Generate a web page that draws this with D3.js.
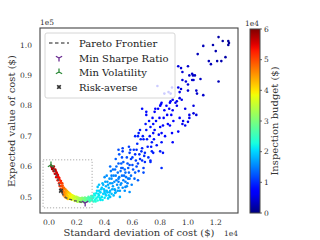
<!DOCTYPE html>
<html>
<head>
<meta charset="utf-8">
<script src="https://cdn.jsdelivr.net/npm/d3@7"></script>
<style>
  html, body { margin: 0; padding: 0; background: #fff; }
  svg { display: block; font-family: "DejaVu Serif", serif; }
</style>
</head>
<body>
<svg id="chart" width="320" height="240"></svg>
<script>
// std dev in 1e4 $, expected cost in 1e5 $, inspection budget in 1e4 $
const bandSamples = [
  [0.014,0.603,5.9],[0.02,0.598,5.85],[0.022,0.592,5.8],[0.03,0.594,5.75],[0.032,0.585,5.7],
  [0.04,0.586,5.65],[0.042,0.576,5.6],[0.045,0.59,5.7],[0.05,0.575,5.55],[0.052,0.565,5.5],
  [0.055,0.58,5.55],[0.06,0.566,5.45],[0.062,0.555,5.4],[0.064,0.572,5.45],[0.07,0.556,5.35],
  [0.072,0.545,5.3],[0.074,0.562,5.35],[0.076,0.536,5.2],[0.08,0.546,5.15],[0.082,0.535,5.1],
  [0.084,0.525,5.0],[0.086,0.552,5.2],[0.09,0.536,5.0],[0.092,0.526,4.95],[0.094,0.516,4.9],
  [0.095,0.545,5.05],[0.10,0.53,4.85],[0.102,0.52,4.8],[0.104,0.51,4.75],[0.106,0.505,4.7],
  [0.11,0.526,4.65],[0.112,0.515,4.6],[0.114,0.506,4.55],[0.116,0.499,4.5],[0.12,0.52,4.45],
  [0.122,0.51,4.4],[0.124,0.501,4.4],[0.126,0.496,4.35],[0.13,0.515,4.3],[0.132,0.505,4.25],
  [0.134,0.498,4.2],[0.136,0.493,4.2],[0.14,0.512,4.15],[0.142,0.502,4.1],[0.144,0.495,4.05],
  [0.15,0.509,4.0],[0.152,0.5,3.95],[0.154,0.493,3.9],[0.16,0.506,3.9],[0.162,0.498,3.85],
  [0.164,0.491,3.8],[0.17,0.503,3.75],[0.172,0.495,3.7],[0.18,0.5,3.65],[0.182,0.492,3.6],
  [0.184,0.487,3.6],[0.19,0.498,3.55],[0.192,0.49,3.5],[0.20,0.496,3.45],[0.202,0.488,3.4],
  [0.204,0.484,3.4],[0.21,0.494,3.35],[0.212,0.486,3.3],[0.22,0.492,3.25],[0.222,0.485,3.2],
  [0.23,0.49,3.15],[0.232,0.483,3.1],[0.24,0.492,3.05],[0.242,0.485,3.0],[0.25,0.49,2.95],
  [0.252,0.483,2.9],[0.26,0.488,2.9],[0.262,0.494,2.85],[0.27,0.485,2.8],[0.272,0.49,2.8],
  [0.274,0.496,2.75],[0.28,0.487,2.7],[0.282,0.493,2.7],[0.284,0.50,2.65],[0.29,0.49,2.6],
  [0.292,0.485,2.6],[0.294,0.497,2.55],[0.30,0.488,2.5],[0.302,0.495,2.5],[0.304,0.503,2.45],
  [0.035,0.60,5.75],[0.048,0.585,5.6],[0.058,0.575,5.5],[0.068,0.565,5.4],[0.078,0.555,5.25],
  [0.088,0.545,5.1],[0.098,0.537,4.95],[0.108,0.53,4.8],[0.118,0.525,4.6],[0.128,0.52,4.4],
  [0.138,0.516,4.25],[0.148,0.512,4.1],[0.158,0.508,3.95],[0.168,0.505,3.8],[0.178,0.503,3.7],
  [0.188,0.50,3.6],[0.198,0.50,3.5],[0.208,0.498,3.4],[0.218,0.496,3.3],[0.228,0.495,3.2],
  [0.238,0.497,3.1],[0.248,0.495,3.0],[0.258,0.498,2.9]
];

const lowSamples = [
  [0.31,0.49,2.4],[0.32,0.497,2.3],[0.32,0.485,2.4],[0.33,0.505,2.2],[0.33,0.49,2.3],
  [0.34,0.495,2.2],[0.34,0.512,2.1],[0.35,0.488,2.3],[0.35,0.50,2.2],[0.35,0.533,1.9],
  [0.36,0.52,2.0],[0.36,0.505,2.1],[0.37,0.493,2.2],[0.37,0.515,2.0],[0.37,0.49,2.1],
  [0.38,0.53,1.9],[0.38,0.50,2.1],[0.39,0.51,2.0],[0.39,0.54,1.8],[0.40,0.52,1.9],
  [0.40,0.497,2.1],[0.40,0.516,1.9],[0.40,0.565,1.6],[0.41,0.535,1.8],[0.41,0.505,2.0],
  [0.42,0.55,1.7],[0.42,0.515,1.9],[0.43,0.53,1.8],[0.43,0.505,2.0],[0.44,0.545,1.7],
  [0.44,0.52,1.8],[0.44,0.50,1.9],[0.44,0.60,1.4],[0.45,0.56,1.6],[0.45,0.51,1.9],
  [0.45,0.57,1.5],[0.46,0.535,1.7],[0.46,0.59,1.4],[0.47,0.525,1.8],[0.47,0.55,1.6],
  [0.475,0.513,1.8],[0.475,0.523,1.7],[0.475,0.59,1.4],[0.48,0.515,1.8],[0.48,0.57,1.5],
  [0.48,0.625,1.3],[0.49,0.54,1.6],[0.50,0.53,1.7],[0.50,0.56,1.5],[0.50,0.55,1.5],
  [0.50,0.61,1.3],[0.50,0.655,1.2],[0.51,0.52,1.7],[0.51,0.50,1.8],[0.52,0.545,1.6],
  [0.52,0.595,1.3],[0.52,0.61,1.3],[0.525,0.57,1.4],[0.525,0.63,1.2],[0.53,0.53,1.6],
  [0.53,0.66,1.1],[0.53,0.595,1.3],[0.53,0.65,1.1],[0.54,0.57,1.4],[0.55,0.55,1.5],
  [0.55,0.533,1.5],[0.55,0.58,1.4],[0.56,0.535,1.6],[0.56,0.63,1.2],[0.57,0.56,1.4],
  [0.57,0.595,1.3],[0.58,0.56,1.5],[0.58,0.516,1.6],[0.58,0.645,1.1],[0.58,0.605,1.2],
  [0.585,0.655,1.1],[0.575,0.665,1.1],
  [0.31,0.495,2.35],[0.315,0.503,2.3],[0.325,0.51,2.2],[0.335,0.485,2.35],[0.345,0.52,2.05],
  [0.355,0.51,2.1],[0.36,0.54,1.9],[0.365,0.497,2.15],[0.375,0.525,1.95],[0.385,0.545,1.85],
  [0.385,0.49,2.15],[0.395,0.525,1.9],[0.405,0.55,1.75],[0.405,0.51,1.95],[0.415,0.52,1.9],
  [0.415,0.57,1.6],[0.425,0.54,1.75],[0.425,0.495,2.0],[0.435,0.56,1.65],[0.435,0.515,1.85],
  [0.445,0.585,1.5],[0.455,0.525,1.75],[0.455,0.545,1.65],[0.465,0.57,1.55],[0.465,0.505,1.85],
  [0.485,0.555,1.55],[0.485,0.60,1.4],[0.495,0.52,1.7],[0.495,0.58,1.45],[0.505,0.565,1.5],
  [0.505,0.64,1.25],[0.515,0.54,1.6],[0.515,0.585,1.4],[0.535,0.555,1.5],[0.535,0.615,1.3],
  [0.545,0.59,1.35],[0.545,0.52,1.6],[0.555,0.565,1.45],[0.565,0.545,1.5],[0.565,0.61,1.25],
  [0.575,0.58,1.35],[0.59,0.57,1.4],[0.59,0.625,1.15],[0.595,0.54,1.5]
];

const midSamples = [
  [0.60,0.605,1.2],[0.60,0.63,1.1],[0.62,0.58,1.3],[0.62,0.64,1.0],[0.62,0.70,0.95],
  [0.63,0.60,1.2],[0.63,0.655,1.0],[0.64,0.555,1.3],[0.64,0.61,1.1],[0.64,0.70,0.95],
  [0.645,0.71,0.9],[0.65,0.64,1.0],[0.66,0.69,0.95],[0.67,0.62,1.0],[0.67,0.66,0.95],
  [0.67,0.79,0.8],[0.68,0.58,1.2],[0.68,0.595,1.1],[0.68,0.69,0.9],[0.69,0.645,1.0],
  [0.69,0.615,1.0],[0.70,0.77,0.8],[0.70,0.72,0.85],[0.70,0.78,0.8],[0.71,0.665,0.9],
  [0.73,0.615,1.0],[0.73,0.62,0.95],[0.73,0.73,0.85],[0.74,0.65,0.95],[0.74,0.68,0.9],
  [0.75,0.645,0.9],[0.75,0.74,0.8],[0.75,0.71,0.8],[0.76,0.78,0.75],[0.765,0.79,0.75],
  [0.78,0.865,0.7],[0.80,0.80,0.75],[0.80,0.73,0.8],[0.80,0.65,0.9],[0.805,0.805,0.7],
  [0.81,0.81,0.7],[0.81,0.71,0.8],[0.81,0.68,0.85],[0.81,0.595,1.0],[0.82,0.735,0.75],
  [0.82,0.645,0.85],[0.83,0.785,0.7],[0.83,0.84,0.65],[0.85,0.77,0.7],[0.86,0.845,0.65],
  [0.87,0.735,0.75],[0.87,0.81,0.7],[0.875,0.815,0.65],[0.885,0.71,0.75],[0.885,0.86,0.6],
  [0.88,0.77,0.7],[0.89,0.785,0.65],[0.89,0.82,0.6],[0.89,0.68,0.7],
  [0.605,0.59,1.25],[0.61,0.655,1.05],[0.615,0.56,1.35],[0.625,0.62,1.1],[0.635,0.675,1.0],
  [0.645,0.585,1.2],[0.655,0.625,1.05],[0.655,0.72,0.9],[0.665,0.65,1.0],[0.675,0.70,0.9],
  [0.685,0.635,1.0],[0.695,0.74,0.85],[0.705,0.69,0.9],[0.715,0.63,1.0],[0.72,0.75,0.85],
  [0.725,0.70,0.85],[0.735,0.665,0.9],[0.745,0.76,0.8],[0.755,0.69,0.85],[0.76,0.72,0.8],
  [0.77,0.75,0.8],[0.775,0.67,0.85],[0.785,0.79,0.75],[0.79,0.705,0.8],[0.795,0.76,0.75],
  [0.825,0.76,0.75],[0.835,0.70,0.8],[0.845,0.80,0.7],[0.855,0.74,0.75],[0.865,0.79,0.7],
  [0.875,0.84,0.65],[0.895,0.75,0.7]
];

const highSamples = [
  [0.91,0.81,0.6],[0.92,0.815,0.55],[0.92,0.80,0.6],[0.93,0.86,0.55],[0.93,0.93,0.5],
  [0.93,0.715,0.65],[0.94,0.845,0.55],[0.94,0.825,0.55],[0.94,0.76,0.65],[0.95,0.855,0.5],
  [0.95,0.924,0.45],[0.955,0.82,0.55],[0.96,0.911,0.45],[0.96,0.885,0.5],[0.96,0.74,0.6],
  [0.965,0.75,0.6],[0.98,0.79,0.55],[0.98,0.735,0.6],[0.985,0.88,0.45],[1.0,0.93,0.4],
  [1.0,0.87,0.45],[1.0,0.85,0.45],[1.0,0.747,0.55],[1.01,0.90,0.4],[1.01,0.76,0.55],
  [1.01,0.77,0.55],[1.03,0.905,0.4],[1.03,0.885,0.4],[1.036,0.90,0.4],[1.04,0.885,0.4],
  [1.04,0.80,0.5],[1.04,0.775,0.5],[1.05,0.90,0.35],[1.06,0.85,0.4],[1.06,0.77,0.5],
  [1.065,0.84,0.4],[1.07,0.97,0.3],[1.09,0.888,0.35],[1.11,0.997,0.3],[1.11,0.835,0.4],
  [1.15,0.947,0.3],[1.165,0.937,0.3],[1.18,1.0,0.25],[1.20,0.98,0.25],[1.21,0.947,0.25],
  [1.22,1.026,0.2],[1.22,0.88,0.3],[1.24,0.947,0.25],[1.25,1.013,0.2],[1.27,0.96,0.2],
  [1.29,1.013,0.15],[1.295,1.007,0.15],[1.29,1.0,0.15]
];

// Pareto frontier trace
const frontierStd  = [0.014, 0.043, 0.065, 0.086, 0.115, 0.165, 0.22, 0.26];
const frontierMean = [0.605, 0.582, 0.556, 0.52, 0.50, 0.49, 0.484, 0.48];

const minVolatility = [0.014, 0.605];
const minSharpe = [0.26, 0.48];
const riskAverse = [0.086, 0.52];

const xTicks = [0.0, 0.2, 0.4, 0.6, 0.8, 1.0, 1.2];
const yTicks = [0.5, 0.6, 0.7, 0.8, 0.9, 1.0];
const cbTicks = [0, 1, 2, 3, 4, 5, 6];
const legendLabels = ['Pareto Frontier', 'Min Sharpe Ratio', 'Min Volatility', 'Risk-averse'];

const svg = d3.select('#chart');
const plot = { left: 40, right: 238, top: 28, bottom: 213 };

const x = d3.scaleLinear().domain([-0.065, 1.36]).range([plot.left, plot.right]);
const y = d3.scaleLinear().domain([0.447, 1.056]).range([plot.bottom, plot.top]);

// matplotlib "jet"
const jr = d3.scaleLinear().domain([0, 0.35, 0.66, 0.89, 1]).range([0, 0, 1, 1, 0.5]).clamp(true);
const jg = d3.scaleLinear().domain([0, 0.125, 0.375, 0.64, 0.91, 1]).range([0, 0, 1, 1, 0, 0]).clamp(true);
const jb = d3.scaleLinear().domain([0, 0.11, 0.34, 0.65, 1]).range([0.5, 1, 1, 0, 0]).clamp(true);
const jet = t => d3.rgb(jr(t) * 255, jg(t) * 255, jb(t) * 255).formatHex();
const budgetNorm = d3.scaleLinear().domain([0, 6]).range([0, 1]).clamp(true);
const color = b => jet(budgetNorm(b));

// plot background
svg.append('rect')
  .attr('x', plot.left).attr('y', plot.top)
  .attr('width', plot.right - plot.left).attr('height', plot.bottom - plot.top)
  .attr('fill', '#fff');

const allSamples = highSamples.concat(midSamples, lowSamples, bandSamples);
svg.append('g')
  .selectAll('circle')
  .data(allSamples)
  .enter().append('circle')
  .attr('cx', d => x(d[0]))
  .attr('cy', d => y(d[1]))
  .attr('r', 1.3)
  .attr('fill', d => color(d[2]));

// zoom box
svg.append('rect')
  .attr('x', x(-0.043)).attr('y', y(0.622))
  .attr('width', x(0.31) - x(-0.043)).attr('height', y(0.464) - y(0.622))
  .attr('fill', 'none')
  .attr('stroke', '#aaa')
  .attr('stroke-width', 1)
  .attr('stroke-dasharray', '1.2,1.8');

const frontier = frontierStd.map((s, i) => [s, frontierMean[i]]);
svg.append('path')
  .datum(frontier)
  .attr('d', d3.line().x(d => x(d[0])).y(d => y(d[1])).curve(d3.curveMonotoneX))
  .attr('fill', 'none')
  .attr('stroke', '#555')
  .attr('stroke-width', 1.3)
  .attr('stroke-dasharray', '3,2');

function tri(up, r) {
  const s = up ? -1 : 1;
  return `M0,0L0,${s * r}M0,0L${-0.866 * r},${-s * 0.5 * r}M0,0L${0.866 * r},${-s * 0.5 * r}`;
}
const xMark = d3.symbol().type(d3.symbolCross).size(14);

function drawMarkers(g, kind, cx, cy) {
  if (kind === 'sharpe') {
    g.append('path').attr('d', tri(false, 3.6)).attr('transform', `translate(${cx},${cy})`)
      .attr('stroke', '#6a2c91').attr('stroke-width', 1.3).attr('fill', 'none');
  } else if (kind === 'vol') {
    g.append('path').attr('d', tri(true, 3.6)).attr('transform', `translate(${cx},${cy})`)
      .attr('stroke', '#2e8b3a').attr('stroke-width', 1.3).attr('fill', 'none');
  } else {
    g.append('path').attr('d', xMark()).attr('transform', `translate(${cx},${cy}) rotate(45)`)
      .attr('fill', '#333');
  }
}
const marks = svg.append('g');
drawMarkers(marks, 'sharpe', x(minSharpe[0]), y(minSharpe[1]));
drawMarkers(marks, 'vol', x(minVolatility[0]), y(minVolatility[1]));
drawMarkers(marks, 'risk', x(riskAverse[0]), y(riskAverse[1]));

svg.append('rect')
  .attr('x', plot.left).attr('y', plot.top)
  .attr('width', plot.right - plot.left).attr('height', plot.bottom - plot.top)
  .attr('fill', 'none').attr('stroke', '#444').attr('stroke-width', 1.1);

// ticks
const tickFont = 7.5;
svg.append('g').selectAll('text').data(xTicks).enter().append('text')
  .attr('x', d => x(d)).attr('y', 225)
  .attr('text-anchor', 'middle').attr('font-size', tickFont).attr('fill', '#333')
  .text(d => d.toFixed(1));
svg.append('g').selectAll('text').data(yTicks).enter().append('text')
  .attr('x', 32).attr('y', d => y(d)).attr('dy', '0.35em')
  .attr('text-anchor', 'end').attr('font-size', tickFont).attr('fill', '#333')
  .text(d => d.toFixed(1));

svg.append('text').attr('x', 40).attr('y', 25).attr('font-size', tickFont).attr('fill', '#333').text('1e5');
svg.append('text').attr('x', 238).attr('y', 236).attr('text-anchor', 'end')
  .attr('font-size', tickFont).attr('fill', '#333').text('1e4');

svg.append('text').attr('x', 139).attr('y', 236).attr('text-anchor', 'middle')
  .attr('font-size', 10).attr('fill', '#333').text('Standard deviation of cost ($)');
svg.append('text').attr('transform', 'translate(15,121) rotate(-90)')
  .attr('text-anchor', 'middle').attr('font-size', 10).attr('fill', '#333')
  .text('Expected value of cost ($)');

// legend
const legend = svg.append('g');
legend.append('rect')
  .attr('x', 45).attr('y', 33).attr('width', 130).attr('height', 65).attr('rx', 2)
  .attr('fill', '#fff').attr('fill-opacity', 0.8)
  .attr('stroke', '#ccc').attr('stroke-width', 0.8);
const rowY = [43, 58, 72, 87];
legend.append('line')
  .attr('x1', 49).attr('x2', 69).attr('y1', rowY[0]).attr('y2', rowY[0])
  .attr('stroke', '#666').attr('stroke-width', 1.3).attr('stroke-dasharray', '3.5,2.5');
drawMarkers(legend, 'sharpe', 59, rowY[1]);
drawMarkers(legend, 'vol', 59, rowY[2]);
drawMarkers(legend, 'risk', 59, rowY[3]);
legend.selectAll('text.lbl').data(legendLabels).enter().append('text')
  .attr('class', 'lbl')
  .attr('x', 79).attr('y', (d, i) => rowY[i]).attr('dy', '0.35em')
  .attr('font-size', 10).attr('fill', '#222')
  .text(d => d);

// colorbar
const cb = { x: 250, w: 10, top: 29, bottom: 213 };
const cbScale = d3.scaleLinear().domain([0, 6]).range([cb.bottom, cb.top]);
const grad = svg.append('defs').append('linearGradient')
  .attr('id', 'jetgrad').attr('x1', 0).attr('y1', 1).attr('x2', 0).attr('y2', 0);
d3.range(0, 1.0001, 0.02).forEach(t => {
  grad.append('stop').attr('offset', t).attr('stop-color', jet(t));
});
svg.append('rect')
  .attr('x', cb.x).attr('y', cb.top).attr('width', cb.w).attr('height', cb.bottom - cb.top)
  .attr('fill', 'url(#jetgrad)').attr('stroke', '#444').attr('stroke-width', 1);
svg.append('g').selectAll('line').data(cbTicks).enter().append('line')
  .attr('x1', cb.x + cb.w).attr('x2', cb.x + cb.w + 2)
  .attr('y1', d => cbScale(d)).attr('y2', d => cbScale(d))
  .attr('stroke', '#444').attr('stroke-width', 0.8);
svg.append('g').selectAll('text').data(cbTicks).enter().append('text')
  .attr('x', cb.x + cb.w + 4).attr('y', d => cbScale(d)).attr('dy', '0.35em')
  .attr('font-size', tickFont).attr('fill', '#333')
  .text(d => d);
svg.append('text').attr('x', 252).attr('y', 26).attr('text-anchor', 'middle')
  .attr('font-size', tickFont).attr('fill', '#333').text('1e4');
svg.append('text').attr('transform', 'translate(278,121) rotate(-90)')
  .attr('text-anchor', 'middle').attr('font-size', 10).attr('fill', '#333')
  .text('Inspection budget ($)');
</script>
</body>
</html>
